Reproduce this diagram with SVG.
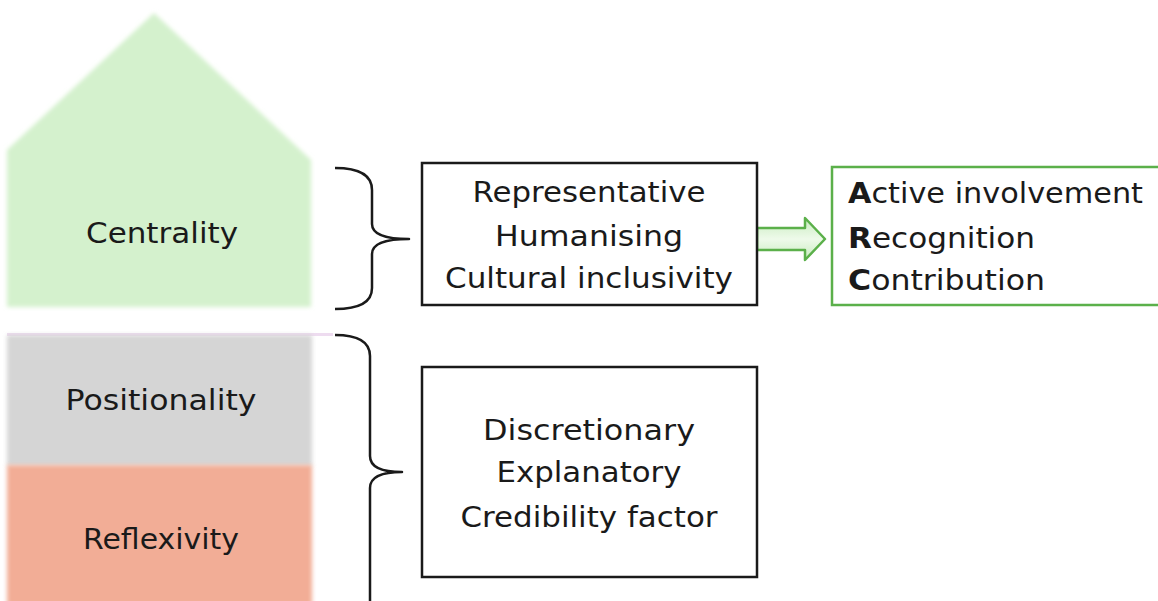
<svg xmlns="http://www.w3.org/2000/svg" width="1158" height="601" viewBox="0 0 1158 601">
  <style>
    .lbl { font-family: "DejaVu Sans", "Liberation Sans", sans-serif; font-size: 29px; fill: #1a1a1a; }
    .box { fill: #ffffff; stroke: #1a1a1a; stroke-width: 2.5; }
    .gbox { fill: #ffffff; stroke: #5bb04a; stroke-width: 2.5; }
    .brace { fill: none; stroke: #1a1a1a; stroke-width: 2.5; stroke-linejoin: round; }
    .b { font-weight: bold; }
  </style>
  <defs>
    <filter id="soft" x="-5%" y="-5%" width="110%" height="110%">
      <feGaussianBlur stdDeviation="2"/>
    </filter>
    <linearGradient id="arrowFill" x1="0" y1="0" x2="0" y2="1">
      <stop offset="0" stop-color="#c8ecbf"/>
      <stop offset="0.5" stop-color="#eefaea"/>
      <stop offset="1" stop-color="#c8ecbf"/>
    </linearGradient>
  </defs>
  <rect x="0" y="0" width="1158" height="601" fill="#ffffff"/>

  <g id="centrality">
    <polygon points="7,150 154,13 311,160 311,307 7,307" fill="#d4f1cd" filter="url(#soft)"/>
    <text class="lbl" x="162" y="243" text-anchor="middle" textLength="152" lengthAdjust="spacingAndGlyphs">Centrality</text>
  </g>

  <g id="positionality">
    <rect x="7" y="333" width="326" height="3" fill="#eedcf0"/>
    <rect x="7" y="335" width="305" height="131" fill="#d5d5d5" filter="url(#soft)"/>
    <text class="lbl" x="161" y="410" text-anchor="middle" textLength="191" lengthAdjust="spacingAndGlyphs">Positionality</text>
  </g>

  <g id="reflexivity">
    <rect x="7" y="465" width="305" height="140" fill="#f2ad96" filter="url(#soft)"/>
    <text class="lbl" x="161" y="549" text-anchor="middle" textLength="156" lengthAdjust="spacingAndGlyphs">Reflexivity</text>
  </g>

  <g id="connectors">
    <path class="brace" d="M335,168 Q372,168 372,190 L372,224 Q372,239 409,239 Q372,239 372,254 L372,288 Q372,309 335,309"/>
    <path class="brace" d="M335,335 Q370,335 370,356 L370,456 Q370,472 402,472 Q370,472 370,488 L370,605"/>
    <polygon points="757,228 805,228 805,218 825,239 805,260 805,250 757,250" fill="url(#arrowFill)" stroke="#5bb04a" stroke-width="2.5" stroke-linejoin="round"/>
  </g>

  <g id="box-centrality">
    <rect class="box" x="422" y="163" width="335" height="142"/>
    <text class="lbl" x="589" y="202" text-anchor="middle" textLength="233" lengthAdjust="spacingAndGlyphs">Representative</text>
    <text class="lbl" x="589" y="246" text-anchor="middle" textLength="188" lengthAdjust="spacingAndGlyphs">Humanising</text>
    <text class="lbl" x="589" y="288" text-anchor="middle" textLength="288" lengthAdjust="spacingAndGlyphs">Cultural inclusivity</text>
  </g>

  <g id="box-reflexivity">
    <rect class="box" x="422" y="367" width="335" height="210"/>
    <text class="lbl" x="589" y="440" text-anchor="middle" textLength="212" lengthAdjust="spacingAndGlyphs">Discretionary</text>
    <text class="lbl" x="589" y="482" text-anchor="middle" textLength="185" lengthAdjust="spacingAndGlyphs">Explanatory</text>
    <text class="lbl" x="589" y="527" text-anchor="middle" textLength="257" lengthAdjust="spacingAndGlyphs">Credibility factor</text>
  </g>

  <g id="arc">
    <rect class="gbox" x="832" y="167" width="340" height="138"/>
    <text class="lbl" x="848" y="203" textLength="295" lengthAdjust="spacingAndGlyphs"><tspan class="b">A</tspan>ctive involvement</text>
    <text class="lbl" x="848" y="248" textLength="187" lengthAdjust="spacingAndGlyphs"><tspan class="b">R</tspan>ecognition</text>
    <text class="lbl" x="848" y="290" textLength="197" lengthAdjust="spacingAndGlyphs"><tspan class="b">C</tspan>ontribution</text>
  </g>
</svg>
